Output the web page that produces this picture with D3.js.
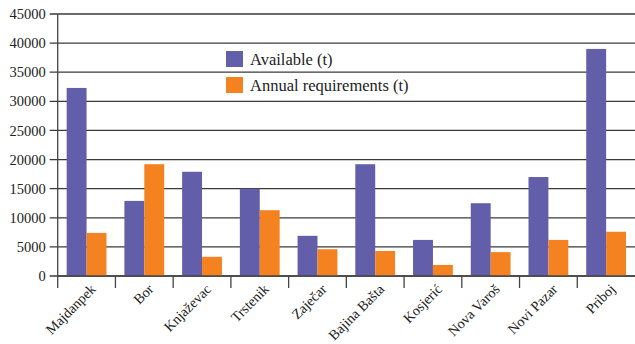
<!DOCTYPE html>
<html lang="en">
<head>
  <meta charset="UTF-8" />
  <title>Available vs annual requirements</title>
  <style>
    body {
      margin: 0;
      background-color: white;
    }
    svg {
      display: block;
      font-family: 'Liberation Serif', 'DejaVu Serif', serif;
    }
  </style>
  <script src="https://d3js.org/d3.v7.min.js"></script>
</head>
<body>
  <div id="chart"></div>
  <script>
    const towns = ["Majdanpek", "Bor", "Knjaževac", "Trstenik", "Zaječar", "Bajina Bašta", "Kosjerić", "Nova Varoš", "Novi Pazar", "Priboj"];
    const available = [32300, 12900, 17900, 15000, 6900, 19200, 6200, 12500, 17000, 39000];
    const requirements = [7400, 19200, 3300, 11300, 4600, 4300, 1900, 4100, 6200, 7600];
    const seriesNames = ["Available (t)", "Annual requirements (t)"];
    const yTicks = [0, 5000, 10000, 15000, 20000, 25000, 30000, 35000, 40000, 45000];

    const purple = "#625eaa";
    const orange = "#f58220";

    const width = 635;
    const height = 344;
    const margin = {top: 14, right: 0, bottom: 68, left: 57.7};

    const svg = d3.select("#chart")
      .append("svg")
      .attr("width", width)
      .attr("height", height);

    const x = d3.scaleBand()
      .domain(towns)
      .range([margin.left, width - margin.right])
      .paddingInner(0)
      .paddingOuter(0);

    const x1 = d3.scaleBand()
      .domain([0, 1])
      .range([0, x.bandwidth()])
      .paddingInner(0)
      .paddingOuter(0.45);

    const y = d3.scaleLinear()
      .domain([0, 45000])
      .range([height - margin.bottom, margin.top]);

    // gridlines
    svg.append("g")
      .selectAll("line")
      .data(yTicks)
      .enter().append("line")
      .attr("x1", margin.left - 8)
      .attr("x2", width)
      .attr("y1", d => y(d))
      .attr("y2", d => y(d))
      .attr("stroke", "#3a3a3a")
      .attr("stroke-width", 1.3);

    svg.append("g")
      .selectAll("text")
      .data(yTicks)
      .enter().append("text")
      .attr("x", margin.left - 12)
      .attr("y", d => y(d))
      .attr("dy", "0.35em")
      .attr("text-anchor", "end")
      .attr("font-size", 14.5)
      .attr("fill", "#222")
      .text(d => d);

    // bars
    const groups = svg.append("g")
      .selectAll("g")
      .data(towns.map((t, i) => ({town: t, values: [available[i], requirements[i]]})))
      .enter().append("g")
      .attr("transform", d => `translate(${x(d.town)},0)`);

    groups.selectAll("rect")
      .data(d => d.values)
      .enter().append("rect")
      .attr("x", (d, i) => x1(i))
      .attr("width", x1.bandwidth())
      .attr("y", d => y(d))
      .attr("height", d => y(0) - y(d))
      .attr("fill", (d, i) => i === 0 ? purple : orange);

    // axes lines
    svg.append("line")
      .attr("x1", margin.left).attr("x2", margin.left)
      .attr("y1", margin.top).attr("y2", y(0) + 12)
      .attr("stroke", "#444").attr("stroke-width", 1.3);

    svg.append("line")
      .attr("x1", margin.left).attr("x2", width)
      .attr("y1", y(0)).attr("y2", y(0))
      .attr("stroke", "#444").attr("stroke-width", 1.5);

    svg.append("g")
      .selectAll("line")
      .data(towns.slice(1))
      .enter().append("line")
      .attr("x1", d => x(d)).attr("x2", d => x(d))
      .attr("y1", y(0)).attr("y2", y(0) + 12)
      .attr("stroke", "#444").attr("stroke-width", 1.3);

    svg.append("g")
      .selectAll("text")
      .data(towns)
      .enter().append("text")
      .attr("transform", d => `translate(${x(d) + x.bandwidth() / 2 + 3},${y(0) + 7}) rotate(-45)`)
      .attr("text-anchor", "end")
      .attr("dy", "0.7em")
      .attr("font-size", 14.2)
      .attr("fill", "#222")
      .text(d => d);

    // legend
    const legend = svg.append("g")
      .attr("transform", "translate(226, 51)");

    seriesNames.forEach((name, i) => {
      const g = legend.append("g").attr("transform", `translate(0, ${i * 26})`);
      g.append("rect")
        .attr("width", 17)
        .attr("height", 16)
        .attr("fill", i === 0 ? purple : orange);
      g.append("text")
        .attr("x", 24)
        .attr("y", 14)
        .attr("font-size", 16.5)
        .attr("fill", "#222")
        .text(name);
    });
  </script>
</body>
</html>
